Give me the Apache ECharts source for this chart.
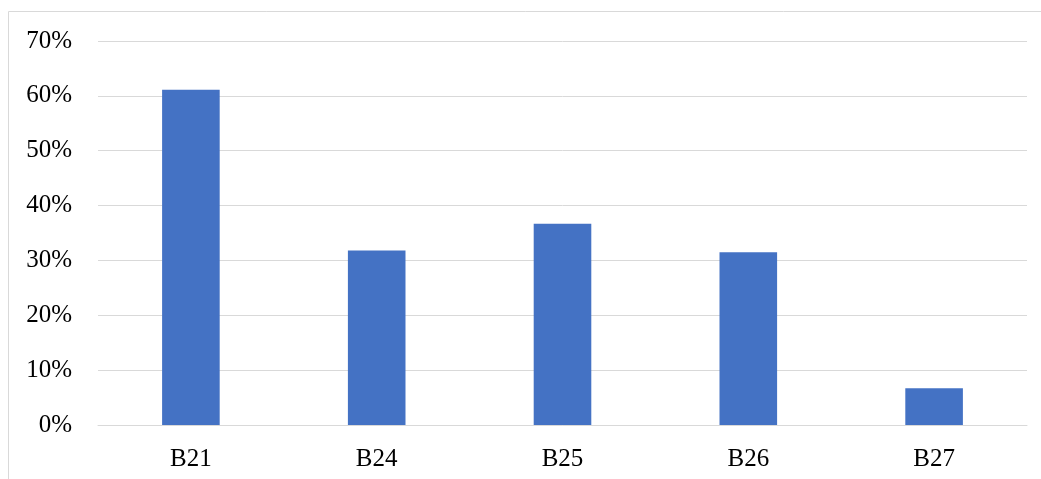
<!DOCTYPE html>
<html><head><meta charset="utf-8">
<script src="https://cdn.jsdelivr.net/npm/echarts@6/dist/echarts.min.js"></script>
<style>html,body{margin:0;padding:0;background:#fff}#c{width:1041px;height:479px}</style>
</head><body><div id="c"></div>
<script>
const categories = ['B21', 'B24', 'B25', 'B26', 'B27'];
const values = [0.611, 0.318, 0.367, 0.315, 0.067];
const yTicks = [0, 0.1, 0.2, 0.3, 0.4, 0.5, 0.6, 0.7];

const font = '"Liberation Serif", "Times New Roman", serif';
const chart = echarts.init(document.getElementById('c'));
chart.setOption({
  animation: false,
  graphic: [{type: 'rect', shape: {x: 8.5, y: 11.5, width: 1100, height: 600}, style: {fill: 'none', stroke: '#d9d9d9', lineWidth: 1}, silent: true}],
  grid: {left: 98, right: 14, top: 41, bottom: 54},
  xAxis: {
    type: 'category', data: categories,
    axisLine: {show: true, lineStyle: {color: '#d9d9d9', width: 1}},
    axisTick: {show: false},
    axisLabel: {fontFamily: font, fontSize: 25, color: '#000', margin: 22}
  },
  yAxis: {
    type: 'value', min: 0, max: 0.7, interval: 0.1,
    axisLine: {show: false}, axisTick: {show: false},
    splitLine: {lineStyle: {color: '#d9d9d9', width: 1}},
    axisLabel: {fontFamily: font, fontSize: 25, color: '#000', margin: 26,
      formatter: v => Math.round(v * 100) + '%'}
  },
  series: [{type: 'bar', data: values, barWidth: '31%', itemStyle: {color: '#4472C4'}}]
});
</script></body></html>
